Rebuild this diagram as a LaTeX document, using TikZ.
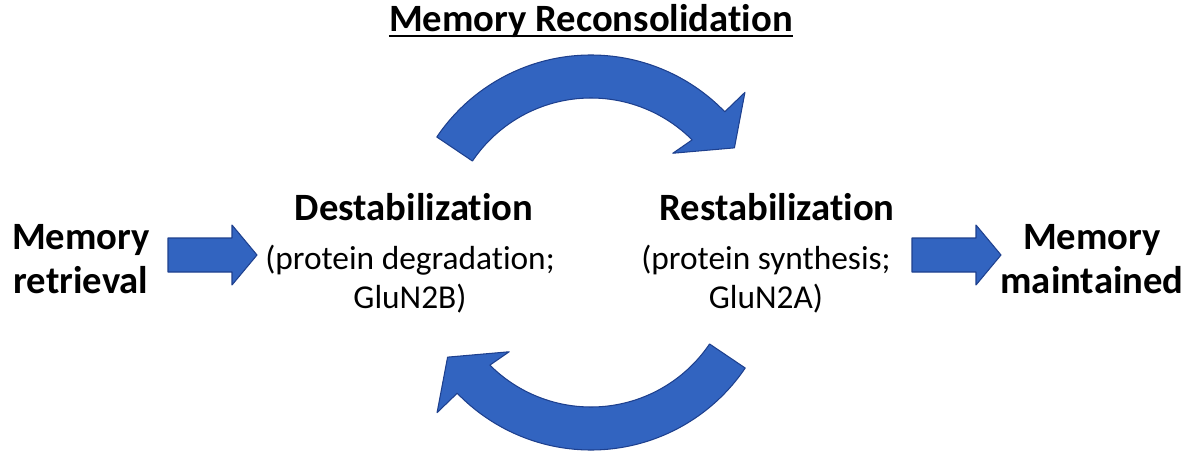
\documentclass[tikz,border=0pt]{standalone}
\usepackage{fontspec}
\setmainfont{Carlito}[Ligatures=NoCommon]
\usetikzlibrary{calc}

\definecolor{arrowblue}{RGB}{50,100,192}
\definecolor{arrowedge}{RGB}{30,64,142}
\definecolor{arrowlight}{RGB}{100,165,232}

\tikzset{
  stage/.style={font=\bfseries\fontsize{22}{26}\selectfont, inner sep=0pt},
  detail/.style={font=\fontsize{19}{22}\selectfont, align=center, inner sep=0pt},
  endpoint/.style={font=\bfseries\fontsize{22}{25}\selectfont, align=center, inner sep=0pt},
  blockarrow/.style={fill=arrowblue, draw=arrowedge, line width=0.6pt, line join=round}
}

\begin{document}
\begin{tikzpicture}[x=0.02cm, y=0.02cm]
    \useasboundingbox (0,0) rectangle (1193,-456);

    % Title
    \node[stage, anchor=base] (title) at (591,-32) {Memory Reconsolidation};
    \draw[line width=1.3pt] ($(title.base west)+(0,-4)$) -- ($(title.base east)+(0,-4)$);

    % Stages
    \node[endpoint] (retr) at (81,-259) {Memory\\retrieval};
    \node[stage, anchor=base] (destab) at (414,-220) {Destabilization};
    \node[detail, anchor=north] (destabdet) at (410,-245) {(protein degradation;\\GluN2B)};
    \node[stage, anchor=base] (restab) at (777,-220) {Restabilization};
    \node[detail, anchor=north] (restabdet) at (766,-245) {(protein synthesis;\\GluN2A)};
    \node[endpoint] (maint) at (1092,-259) {Memory\\maintained};

    % Straight block arrows
    \foreach \x in {168,912} {
        \draw[blockarrow] (\x,-238) -- ++(64,0) -- ++(0,13) -- ++(25,-30)
            -- ++(-25,-30) -- ++(0,13) -- ++(-64,0) -- cycle;
    }

    % Curved arrows of the cycle
    \foreach \cy/\rot in {-241/0, -264/180} {
        \begin{scope}[shift={(591,\cy)}, rotate=\rot]
            \draw[blockarrow] (146:186) arc[start angle=146, end angle=44, radius=186]
                -- (44:214) -- (33:171) -- (47:120) -- (45:143)
                arc[start angle=45, end angle=146, radius=143] -- cycle;
        \end{scope}
    }
\end{tikzpicture}
\end{document}
